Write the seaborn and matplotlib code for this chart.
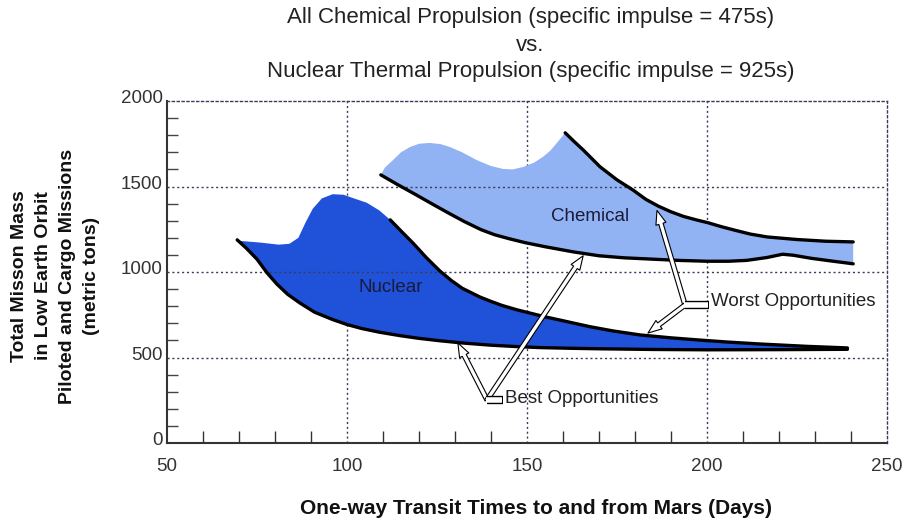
import numpy as np
import pandas as pd
import matplotlib
matplotlib.use("Agg")
import matplotlib.pyplot as plt
import matplotlib.transforms as mtransforms
import seaborn as sns

# --- data (days, metric tons) ---
# nuclear region: wavy top edge (no outline) then the outlined "worst" edge
nuc_top_x = [70.3, 76, 81, 84, 86.5, 88.5, 90.5, 93, 96, 99, 102, 105.5, 109, 112]
nuc_top_y = [1182, 1172, 1160, 1165, 1200, 1290, 1370, 1430, 1455, 1452, 1430, 1405, 1360, 1305]
nuc_worst_x = [112, 115, 118.3, 122, 125.8, 129, 132, 136.9, 140, 143, 147, 150.8, 155, 160, 167.5,
               174, 181.4, 190, 198, 206, 214.7, 228, 239]
nuc_worst_y = [1305, 1240, 1170, 1085, 1006, 950, 905, 854, 828, 805, 780, 760, 738, 715, 680,
               655, 632, 615, 602, 590, 579, 565, 556]
nuc_best_x = [69.5, 72, 75, 77.8, 80.5, 83.5, 86.9, 91, 96, 100, 104, 109, 114.7, 120, 125.8, 132,
              140, 147, 153.6, 162, 170, 185, 200, 220, 239]
nuc_best_y = [1188, 1140, 1075, 995, 930, 870, 819, 765, 722, 693, 670, 648, 628, 612, 598, 585,
              572, 564, 558, 554, 551, 547, 545, 546, 548]

# chemical region
chem_top_x = [109.4, 110.5, 112.8, 115, 117.5, 120, 123, 126, 128.6, 132, 136, 140, 143.3, 146,
              148.9, 152, 154.4, 156.5, 158.3, 160.6]
chem_top_y = [1568, 1610, 1655, 1700, 1731, 1750, 1755, 1748, 1731, 1700, 1655, 1620, 1603, 1600,
              1614, 1640, 1673, 1710, 1755, 1814]
chem_worst_x = [160.6, 163, 165.6, 170.3, 175, 179.4, 183, 186.5, 190, 193.5, 197, 200.3, 204, 208,
                212, 216.7, 225, 233, 240.6]
chem_worst_y = [1814, 1765, 1714, 1615, 1539, 1480, 1425, 1385, 1352, 1325, 1305, 1288, 1265, 1243,
                1222, 1205, 1190, 1180, 1176]
chem_best_x = [109.4, 114, 118.9, 123.5, 128.1, 132.6, 137.2, 141, 145, 149.4, 155, 162.8, 170, 177,
               184, 192, 200, 206, 211, 216.7, 221, 224, 229, 234, 240.6]
chem_best_y = [1568, 1512, 1455, 1400, 1346, 1295, 1248, 1218, 1195, 1172, 1148, 1118, 1095, 1083,
               1076, 1068, 1063, 1063, 1068, 1085, 1104, 1098, 1080, 1066, 1048]

title_lines = ["All Chemical Propulsion (specific impulse = 475s)",
               "vs.",
               "Nuclear Thermal Propulsion (specific impulse = 925s)"]
x_ticks = [50, 100, 150, 200, 250]
y_ticks = [0, 500, 1000, 1500, 2000]

nuc_color = "#1f52d8"
chem_color = "#92b3f3"
grid_color = "#3a3a5a"

sns.set_style("white")
plt.rcParams["font.family"] = ["Liberation Sans", "DejaVu Sans"]

fig = plt.figure(figsize=(9.08, 5.27), dpi=100)
ax = fig.add_axes([0.1839, 0.1594, 0.793, 0.6489])

# filled regions
ax.fill(nuc_top_x + nuc_worst_x + nuc_best_x[::-1],
        nuc_top_y + nuc_worst_y + nuc_best_y[::-1],
        color=nuc_color, lw=0, zorder=2)
ax.fill(chem_top_x + chem_worst_x + chem_best_x[::-1],
        chem_top_y + chem_worst_y + chem_best_y[::-1],
        color=chem_color, lw=0, zorder=2)

# black outlines
for xs, ys in [(nuc_worst_x, nuc_worst_y), (nuc_best_x, nuc_best_y),
               (chem_worst_x, chem_worst_y), (chem_best_x, chem_best_y)]:
    sns.lineplot(x=xs, y=ys, ax=ax, color="black", lw=2.4, estimator=None,
                 sort=False, zorder=4)
for line in ax.lines:
    line.set_solid_joinstyle("round")

ax.set_xlim(50, 250)
ax.set_ylim(0, 2000)

# grid
for gx in [100, 150, 200]:
    ax.axvline(gx, color=grid_color, ls=(0, (1.5, 2)), lw=1, zorder=1)
for gy in [500, 1000, 1500]:
    ax.axhline(gy, color=grid_color, ls=(0, (1.5, 2)), lw=1, zorder=3)

for s in ["top", "right"]:
    ax.spines[s].set_linestyle((0, (1.5, 2)))
    ax.spines[s].set_color(grid_color)
    ax.spines[s].set_linewidth(1)
for s in ["left", "bottom"]:
    ax.spines[s].set_color("#333333")
    ax.spines[s].set_linewidth(1.5)

ax.set_xticks(x_ticks)
ax.set_xticklabels([str(v) for v in x_ticks])
ax.set_xticks(np.arange(60, 250, 10), minor=True)
ax.set_yticks(y_ticks)
ax.set_yticklabels([str(v) for v in y_ticks])
ax.set_yticks(np.arange(100, 2000, 100), minor=True)
ax.tick_params(axis="x", which="major", length=0, pad=11, labelsize=13.5, labelcolor="#333333")
ax.tick_params(axis="x", which="minor", direction="in", length=9, width=1, color="#333333", bottom=True)
ax.tick_params(axis="y", which="major", direction="in", length=0, pad=3, labelsize=13.5, labelcolor="#333333")
ax.tick_params(axis="y", which="minor", direction="in", length=8, width=1, color="#444444", left=True)
shift = mtransforms.ScaledTranslation(0, 3 / 72, fig.dpi_scale_trans)
for lab in ax.get_yticklabels():
    lab.set_transform(lab.get_transform() + shift)

# region labels
ax.text(167.5, 1322, "Chemical", ha="center", va="center", fontsize=13.5, color="#1a1a3a", zorder=5)
ax.text(112.2, 907, "Nuclear", ha="center", va="center", fontsize=13.5, color="#1a1a3a", zorder=5)

# hollow arrows
arrow_kw = dict(arrowstyle="simple,head_length=1.0,head_width=0.75,tail_width=0.32",
                fc="white", ec="black", lw=0.8, shrinkA=0, shrinkB=0)
best_base = (138.9, 252)
for tip in [(130.8, 585), (165.6, 1095)]:
    ax.annotate("", xy=tip, xytext=best_base, arrowprops=arrow_kw, zorder=6)
ax.plot([138.9, 143.4], [252, 252], color="black", lw=6, solid_capstyle="butt", zorder=6)
ax.plot([138.5, 143.0], [252, 252], color="white", lw=4, solid_capstyle="butt", zorder=7)
ax.text(143.9, 258, "Best Opportunities", ha="left", va="center", fontsize=13.5, color="#222222", zorder=7)

worst_base = (193.9, 807)
for tip in [(186.1, 1360), (183.6, 643)]:
    ax.annotate("", xy=tip, xytext=worst_base, arrowprops=arrow_kw, zorder=6)
ax.plot([193.9, 200.6], [807, 807], color="black", lw=6, solid_capstyle="butt", zorder=6)
ax.plot([193.5, 200.2], [807, 807], color="white", lw=4, solid_capstyle="butt", zorder=7)
ax.text(201.2, 830, "Worst Opportunities", ha="left", va="center", fontsize=13.5, color="#222222", zorder=7)

# titles and axis labels
for i, line in enumerate(title_lines):
    fig.text(0.584, 1 - (18 + 27 * i) / 527, line, ha="center", va="center",
             fontsize=16, color="#222222")
fig.text(0.59, 1 - 508 / 527, "One-way Transit Times to and from Mars (Days)",
         ha="center", va="center", fontsize=15, fontweight="bold", color="#111111")
ylab = ["Total Misson Mass", "in Low Earth Orbit", "Piloted and Cargo Missions", "(metric tons)"]
for i, line in enumerate(ylab):
    fig.text((20 + 24 * i) / 908, 1 - 276 / 527, line, ha="center", va="center",
             rotation=90, fontsize=14, fontweight="bold", color="#111111")

fig.savefig("out.png", dpi=100)
